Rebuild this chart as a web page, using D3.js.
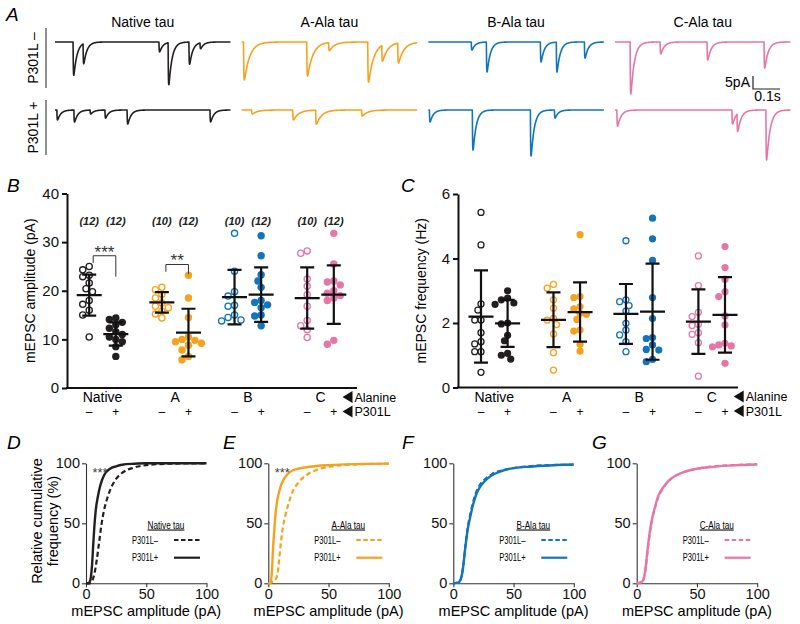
<!DOCTYPE html>
<html><head><meta charset="utf-8">
<script src="https://cdn.jsdelivr.net/npm/d3@7"></script>
<style>
body{margin:0;background:#fff;}
svg{font-family:"Liberation Sans",Arial,Helvetica,sans-serif;}
</style></head><body>
<svg id="c" width="800" height="624"></svg>
<script>
// ================= DATA =================
const conditions = ["Native tau","A-Ala tau","B-Ala tau","C-Ala tau"];
const colors = ["#231f20","#f6a21c","#1274ba","#e776a7"];
const rowLabels = ["P301L –","P301L +"];
const traceDuration = 0.65; // s
const decayTau = [0.012,0.02,0.012,0.013]; // s
// spontaneous events: [time (s), amplitude (pA)]
const eventsMinus = [
  [[0.067,12.8],[0.104,7.7],[0.385,3.8],[0.419,16.2],[0.496,8.5],[0.537,2.3]],
  [[0.007,14.6],[0.241,13.1],[0.322,3.1],[0.467,15.4],[0.519,6.2],[0.578,7.7]],
  [[0.159,3.1],[0.215,11.5],[0.415,7.7],[0.474,11.5],[0.578,6.2]],
  [[0.056,20],[0.167,4.6],[0.341,6.9],[0.552,10]]
];
const eventsPlus = [
  [[0.007,3.8],[0.07,4.6],[0.13,1.5],[0.185,3.1],[0.267,5.4],[0.574,4.6]],
  [[0.037,1.5],[0.189,3.8],[0.274,5.4],[0.444,2.3]],
  [[0.004,4.6],[0.163,15.4],[0.378,17.7],[0.467,3.1]],
  [[0.007,6.2],[0.433,5.4],[0.452,6.9],[0.559,19.2]]
];
const scaleBarAmp = 5, scaleBarTime = 0.1;

const groups = ["Native","A","B","C"];
const p301 = ["–","+"];
const nCells = [12,12,10,12,10,12,10,12];
const ampPoints = [
 [25.0,24.3,23.2,22.9,21.6,20.4,19.8,18.0,17.2,16.0,15.0,10.5],
 [14.4,14.1,13.5,13.0,12.3,11.6,11.0,10.5,10.0,9.5,8.5,6.5],
 [20.7,20.2,19.3,18.5,17.5,16.8,16.5,15.8,15.2,14.4],
 [23.2,18.5,14.5,10.5,10.0,9.8,9.5,9.2,8.8,7.8,6.5,5.8],
 [31.8,24.0,19.8,18.9,17.0,16.8,15.0,14.5,14.0,13.8],
 [31.3,27.2,23.3,22.0,20.7,18.0,17.6,17.1,16.5,15.0,14.8,12.8],
 [28.2,27.7,22.4,20.9,19.2,16.8,13.9,12.8,12.0,10.4],
 [31.8,25.5,22.0,21.8,21.2,20.0,19.5,19.0,18.5,18.0,9.8,9.0]
];
const ampMean = [19.1,11.1,17.6,11.4,18.7,19.2,18.5,19.2];
const ampSD   = [4.2,2.4,2.1,4.9,5.6,5.6,6.3,6.0];
const ampTicks = [0,10,20,30,40];
const ampSig = [
  {group:"Native", top:27.2, leftEnd:25.7, rightEnd:22.9, label:"***"},
  {group:"A", top:25.4, leftEnd:23.9, rightEnd:23.4, label:"**"}
];
const freqPoints = [
 [5.43,4.42,2.59,2.40,2.09,2.09,1.70,1.42,1.35,1.11,1.11,0.47],
 [3.0,2.77,2.72,2.62,2.58,2.0,1.97,1.62,1.45,1.06,1.0,0.88],
 [3.2,3.08,2.72,2.46,2.14,2.09,1.95,1.66,1.08,0.54],
 [4.74,2.82,2.79,2.51,2.44,2.30,2.27,2.11,1.78,1.75,1.34,1.13],
 [4.55,2.72,2.66,2.54,2.37,1.99,1.78,1.63,1.42,1.11],
 [5.25,4.61,3.94,2.79,2.14,1.55,1.52,1.32,1.18,1.16,0.87,0.80],
 [4.08,3.16,2.33,2.2,1.96,1.92,1.70,1.65,1.39,0.35],
 [4.37,3.72,3.36,2.97,2.82,2.22,1.94,1.37,1.32,1.29,1.26,0.75]
];
const freqMean = [2.2,1.99,2.1,2.34,2.28,2.35,2.04,2.25];
const freqSD   = [1.43,0.73,0.85,0.92,0.93,1.49,1.0,1.17];
const freqTicks = [0,2,4,6];

// cumulative distributions: [amplitude pA, cumulative %]
const cdfMinus = [
 [[0,0],[3,0],[5,2],[7,8],[9,20],[11,35],[13,50],[15,61],[18,72],[21,80],[25,87],[30,92],[40,96.5],[50,98.5],[60,99.3],[75,99.8],[100,100]],
 [[0,0],[3,1],[6,3],[8,10],[10,30],[12,46],[14,56],[17,67],[20,76],[25,84],[30,89],[40,94.5],[50,97],[60,98.3],[80,99.3],[100,99.7]],
 [[0,0],[4,0.5],[6,3],[8,13],[10,31],[12,47],[14,57],[16,66],[19,76],[22,82],[26,86.5],[32,91],[40,94],[50,96],[60,97.3],[75,98.3],[100,98.8]],
 [[0,0],[3,0.5],[5,2],[7,9],[9,26],[11,42],[13,54],[15,62],[18,72],[22,79],[27,85.5],[33,90],[40,93],[50,95.5],[65,97.5],[80,98.5],[100,99.3]]
];
const cdfPlus = [
 [[0,0],[2,0],[3,1],[4,5],[5,15],[6,32],[7,48],[8,60],[10,73],[12,82],[15,90],[20,95.5],[25,97.5],[30,98.8],[40,99.6],[50,100],[100,100]],
 [[0,0],[2,0],[3,10],[4,30],[5,45],[6,58],[8,72],[10,80],[13,87],[16,91],[20,94],[30,96.5],[40,97.8],[50,98.5],[70,99.3],[100,99.7]],
 [[0,0],[4,0.5],[6,3],[8,12],[10,30],[12,45],[14,55],[16,64],[19,74],[22,80],[26,85],[32,90],[40,93.5],[50,96],[60,97],[75,98],[100,99]],
 [[0,0],[3,0.5],[5,2],[7,10],[9,28],[11,44],[13,55],[15,63],[18,73],[22,80],[27,86],[33,90],[40,93],[50,95.5],[65,97.2],[80,98.3],[100,99]]
];
const cdfSig = ["***","***","",""];
const cdfTicks = [0,50,100];
const legendLabels = ["P301L–","P301L+"];

// ================= DRAW =================
const svg = d3.select("#c");
const FONT = 14;

function panelLetter(t,x,y){
  svg.append("text").attr("x",x).attr("y",y).attr("font-size",19).attr("font-style","italic").text(t);
}

// ---------- Panel A ----------
panelLetter("A",6,21);
const tx = d3.scaleLinear().domain([0,traceDuration]).range([0,175.5]);
const ty = d3.scaleLinear().domain([0,20]).range([0,52]);
const traceX0 = d3.scalePoint().domain(conditions).range([55,615]);
const rowBase = [42,110];
function kernel(s,tau){
  if(s<0) return 0;
  const tr=0.0009;
  const tp = tau*tr/(tau-tr)*Math.log(tau/tr);
  const pk = Math.exp(-tp/tau)-Math.exp(-tp/tr);
  return (Math.exp(-s/tau)-Math.exp(-s/tr))/pk;
}
const tSamples = d3.range(0,traceDuration+1e-9,0.0004);
conditions.forEach((c,i)=>{
  const x0 = traceX0(c);
  svg.append("text").attr("x",x0+tx(traceDuration)/2).attr("y",27).attr("text-anchor","middle")
    .attr("font-size",FONT).text(c);
  [eventsMinus[i],eventsPlus[i]].forEach((ev,r)=>{
    const pts = tSamples.map(t=>({t,v:d3.sum(ev,e=>e[1]*kernel(t-e[0],decayTau[i]))}));
    const line = d3.line().x(d=>x0+tx(d.t)).y(d=>rowBase[r]+ty(d.v));
    svg.append("path").attr("d",line(pts)).attr("fill","none").attr("stroke",colors[i])
      .attr("stroke-width",1.6).attr("stroke-linejoin","round");
  });
});
// row labels
[[28,88],[100,155]].forEach((yy,r)=>{
  svg.append("line").attr("x1",46).attr("x2",46).attr("y1",yy[0]).attr("y2",yy[1]).attr("stroke","#222").attr("stroke-width",1);
  svg.append("text").attr("transform",`translate(38,${(yy[0]+yy[1])/2}) rotate(-90)`)
    .attr("text-anchor","middle").attr("font-size",FONT).text(rowLabels[r]);
});
// scale bar
{
  const sx=753, sy=89;
  svg.append("path").attr("d",`M${sx},${sy-ty(scaleBarAmp)}V${sy}H${sx+tx(scaleBarTime)}`)
    .attr("fill","none").attr("stroke","#222").attr("stroke-width",1.2);
  svg.append("text").attr("x",sx-3).attr("y",sy-2).attr("text-anchor","end").attr("font-size",FONT).text(scaleBarAmp+"pA");
  svg.append("text").attr("x",sx+tx(scaleBarTime)/2+1).attr("y",sy+12).attr("text-anchor","middle").attr("font-size",FONT).text(scaleBarTime+"s");
}

// ---------- Scatter panels B, C ----------
const sub = d3.scalePoint().domain(p301).range([-13.3,13.3]);
function swarm(vals,y,cx,r){
  const placed=[];
  vals.slice().sort((a,b)=>b-a).forEach(v=>{
    const py=y(v); let k=0, px=cx;
    while(k<40){
      const off = k===0?0:(k%2?-1:1)*Math.ceil(k/2)*r*0.95;
      px=cx+off;
      if(placed.every(p=>Math.hypot(p.x-px,p.y-py)>=2*r-0.4)) break;
      k++;
    }
    placed.push({x:px,y:py});
  });
  return placed;
}
function scatterPanel(opt){
  const {x0,y0,y1,xEnd,domain,ticks,gRange,points,mean,sd,label,r,sig,ns} = opt;
  const y = d3.scaleLinear().domain(domain).range([y0,y1]);
  const g = d3.scalePoint().domain(groups).range(gRange);
  const ax = svg.append("g").attr("transform",`translate(${x0},0)`)
    .call(d3.axisLeft(y).tickValues(ticks).tickFormat(d3.format("d")).tickSize(5).tickSizeOuter(0).tickPadding(3));
  ax.select(".domain").attr("stroke","#111").attr("stroke-width",2);
  ax.selectAll(".tick line").attr("stroke","#111").attr("stroke-width",2);
  ax.selectAll(".tick text").attr("font-size",15).attr("font-family","inherit").attr("fill","#111");
  svg.append("line").attr("x1",x0-1).attr("x2",xEnd).attr("y1",y(domain[0])).attr("y2",y(domain[0]))
    .attr("stroke","#111").attr("stroke-width",2);
  svg.append("text").attr("transform",`translate(${x0-32},${(y0+y1)/2}) rotate(-90)`)
    .attr("text-anchor","middle").attr("font-size",FONT).text(label);
  // category labels
  groups.forEach(gr=>{
    svg.append("text").attr("x",g(gr)).attr("y",y0+14).attr("text-anchor","middle").attr("font-size",FONT).text(gr);
    p301.forEach(s=>{
      svg.append("text").attr("x",g(gr)+sub(s)).attr("y",y0+28).attr("text-anchor","middle").attr("font-size",12).text(s);
    });
  });
  const tri = g("C")+22;
  [["Alanine",y0+9],["P301L",y0+23.5]].forEach(([t,yy])=>{
    svg.append("path").attr("d",`M${tri},${yy}l10,-6v12z`).attr("fill","#111");
    svg.append("text").attr("x",tri+12).attr("y",yy+4.5).attr("font-size",12.5).text(t);
  });
  // points
  points.forEach((vals,i)=>{
    const gr=groups[Math.floor(i/2)], s=p301[i%2];
    const cx=g(gr)+sub(s), col=colors[Math.floor(i/2)], filled=i%2===1;
    swarm(vals,y,cx,r).forEach(p=>{
      svg.append("circle").attr("cx",p.x).attr("cy",p.y).attr("r",filled?r+0.3:r-0.3)
        .attr("fill",filled?col:"#fff").attr("stroke",col).attr("stroke-width",filled?0:1.3);
    });
    if(ns){
      svg.append("text").attr("x",cx).attr("y",ns.y).attr("text-anchor","middle").attr("font-size",11)
        .attr("font-style","italic").attr("font-weight","bold").attr("fill","#222").text(`(${ns.vals[i]})`);
    }
  });
  // mean ± SD
  mean.forEach((m,i)=>{
    const gr=groups[Math.floor(i/2)], s=p301[i%2];
    const cx=g(gr)+sub(s);
    const p = d3.path();
    p.moveTo(cx-12.5,y(m)); p.lineTo(cx+12.5,y(m));
    p.moveTo(cx,y(m-sd[i])); p.lineTo(cx,y(m+sd[i]));
    p.moveTo(cx-7,y(m-sd[i])); p.lineTo(cx+7,y(m-sd[i]));
    p.moveTo(cx-7,y(m+sd[i])); p.lineTo(cx+7,y(m+sd[i]));
    svg.append("path").attr("d",p.toString()).attr("stroke","#111").attr("stroke-width",2.2).attr("fill","none");
  });
  (sig||[]).forEach(sg=>{
    const xl=g(sg.group)+sub("–")+4, xr=g(sg.group)+sub("+");
    svg.append("path").attr("d",`M${xl},${y(sg.leftEnd)}V${y(sg.top)}H${xr}V${y(sg.rightEnd)}`)
      .attr("fill","none").attr("stroke","#333").attr("stroke-width",1);
    svg.append("text").attr("x",(xl+xr)/2).attr("y",y(sg.top)+2).attr("text-anchor","middle")
      .attr("font-size",17).attr("fill","#333").text(sg.label);
  });
}
panelLetter("B",7,192);
scatterPanel({x0:67,y0:388,y1:193.5,xEnd:357,domain:[0,40],ticks:ampTicks,gRange:[102.5,320.5],
  points:ampPoints,mean:ampMean,sd:ampSD,label:"mEPSC amplitude (pA)",r:3.4,sig:ampSig,ns:{y:224.5,vals:nCells}});
panelLetter("C",401,192);
scatterPanel({x0:458,y0:387.5,y1:194,xEnd:738,domain:[0,6],ticks:freqTicks,gRange:[494.3,711.7],
  points:freqPoints,mean:freqMean,sd:freqSD,label:"mEPSC frequency (Hz)",r:3.3});

// ---------- CDF panels D-G ----------
const cdfLetters = ["D","E","F","G"];
const cdfAxisX = [86,268.3,453.3,636.7];
const cdfLetterX = [7,223,402,592];
conditions.forEach((c,i)=>{
  const x0 = cdfAxisX[i];
  const x = d3.scaleLinear().domain([0,100]).range([x0,x0+120.5]);
  const y = d3.scaleLinear().domain([0,100]).range([583.3,463.3]);
  panelLetter(cdfLetters[i],cdfLetterX[i],449);
  const ay = svg.append("g").attr("transform",`translate(${x0},0)`)
    .call(d3.axisLeft(y).tickValues(cdfTicks).tickSize(4).tickSizeOuter(0).tickPadding(2));
  const axx = svg.append("g").attr("transform",`translate(0,${y(0)})`)
    .call(d3.axisBottom(x).tickValues(cdfTicks).tickSize(4).tickSizeOuter(0).tickPadding(1));
  [ay,axx].forEach(a=>{
    a.select(".domain").attr("stroke","#333").attr("stroke-width",1.1);
    a.selectAll(".tick line").attr("stroke","#333").attr("stroke-width",1.1);
    a.selectAll(".tick text").attr("font-size",14.5).attr("font-family","inherit").attr("fill","#111");
  });
  svg.append("text").attr("x",x(50)).attr("y",616).attr("text-anchor","middle").attr("font-size",14.5).text("mEPSC amplitude (pA)");
  const line = d3.line().x(d=>x(d[0])).y(d=>y(d[1])).curve(d3.curveMonotoneX);
  svg.append("path").attr("d",line(cdfMinus[i])).attr("fill","none").attr("stroke",colors[i])
    .attr("stroke-width",2.2).attr("stroke-dasharray","5,3");
  svg.append("path").attr("d",line(cdfPlus[i])).attr("fill","none").attr("stroke",colors[i])
    .attr("stroke-width",2.4);
  if(cdfSig[i]) svg.append("text").attr("x",x0+14).attr("y",477).attr("text-anchor","middle")
    .attr("font-size",13).attr("fill","#444").text(cdfSig[i]);
  // legend
  const lt = svg.append("text").attr("x",x0+80).attr("y",528.5).attr("text-anchor","middle")
    .attr("font-size",10.5).attr("text-decoration","underline").text(c);
  lt.attr("textLength",lt.node().getComputedTextLength()*0.78).attr("lengthAdjust","spacingAndGlyphs");
  legendLabels.forEach((lab,k)=>{
    const yy = 540 + k*17.7;
    const t = svg.append("text").attr("x",x0+46).attr("y",yy+3.7).attr("font-size",10.5).text(lab);
    t.attr("textLength",t.node().getComputedTextLength()*0.72).attr("lengthAdjust","spacingAndGlyphs");
    svg.append("line").attr("x1",x0+88).attr("x2",x0+114).attr("y1",yy).attr("y2",yy)
      .attr("stroke",colors[i]).attr("stroke-width",2.2).attr("stroke-dasharray",k===0?"4.5,2.5":null);
  });
});
// shared y label for CDFs
svg.append("text").attr("transform","translate(42,521) rotate(-90)").attr("text-anchor","middle").attr("font-size",14.5).text("Relative cumulative");
svg.append("text").attr("transform","translate(58,521) rotate(-90)").attr("text-anchor","middle").attr("font-size",14.5).text("frequency (%)");
</script>
</body></html>
